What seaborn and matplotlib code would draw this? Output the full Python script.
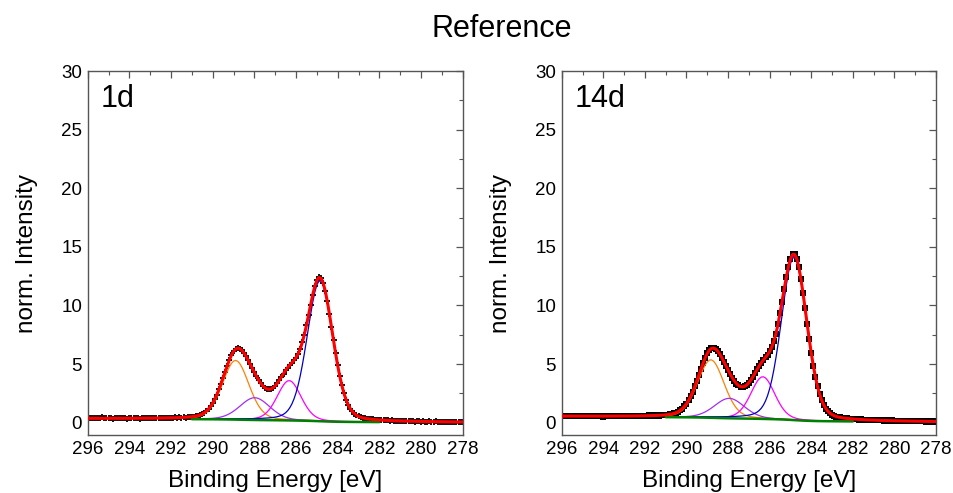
import numpy as np
import pandas as pd
import matplotlib
matplotlib.use("Agg")
import matplotlib.pyplot as plt
from matplotlib.ticker import MultipleLocator
import seaborn as sns

sns.set_theme(style="white")
plt.rcParams["font.family"] = ["Liberation Sans", "DejaVu Sans"]
plt.rcParams["text.color"] = "black"
plt.rcParams["axes.labelcolor"] = "black"

# C 1s fit parameters for each sample: peak centre [eV], height above background, FWHM [eV]
panel_names = ["1d", "14d"]
centers_1d = [288.90, 287.98, 286.33, 284.85]
heights_1d = [5.05, 1.90, 3.40, 12.00]
fwhm_1d = [1.50, 1.70, 1.35, 1.45]
centers_14d = [288.83, 287.94, 286.33, 284.83]
heights_14d = [4.95, 1.70, 3.60, 13.90]
fwhm_14d = [1.50, 1.70, 1.35, 1.45]
# background: level at 278 eV, linear slope per eV, Shirley step height
bg_1d = [0.02, 0.008, 0.18]
bg_14d = [0.06, 0.012, 0.26]
gl_mix = 0.2
fit_window = (282.0, 291.0)
component_colors = ["#ff8000", "#a030f0", "#ff00ff", "#0000c0"]

# binding-energy axis of the scans: 278.0 -> 296.0 eV in 0.1 eV steps
energy = np.round(np.arange(278.0, 296.0001, 0.1), 1)

# measured 1d spectrum
measured_1d = [
    0.06, 0.04, 0.08, 0.05, 0.09, 0.06, 0.05, 0.09, 0.07, 0.06,
    0.10, 0.07, 0.06, 0.11, 0.08, 0.10, 0.12, 0.08, 0.09, 0.13,
    0.10, 0.12, 0.14, 0.10, 0.11, 0.15, 0.12, 0.13, 0.16, 0.14,
    0.15, 0.18, 0.15, 0.17, 0.19, 0.18, 0.20, 0.19, 0.22, 0.22,
    0.24, 0.25, 0.26, 0.28, 0.30, 0.32, 0.34, 0.37, 0.41, 0.47,
    0.54, 0.64, 0.78, 0.96, 1.21, 1.54, 1.97, 2.51, 3.18, 3.97,
    4.89, 5.92, 7.03, 8.18, 9.31, 10.37, 11.27, 11.94, 12.33, 12.39,
    12.15, 11.63, 10.91, 10.06, 9.17, 8.31, 7.52, 6.85, 6.30, 5.87,
    5.56, 5.32, 5.12, 4.92, 4.71, 4.47, 4.19, 3.91, 3.62, 3.36,
    3.15, 2.98, 2.88, 2.85, 2.88, 2.99, 3.16, 3.38, 3.65, 3.96,
    4.29, 4.64, 4.99, 5.34, 5.67, 5.96, 6.18, 6.32, 6.36, 6.28,
    6.08, 5.76, 5.35, 4.87, 4.36, 3.83, 3.32, 2.84, 2.40, 2.01,
    1.68, 1.40, 1.18, 1.00, 0.86, 0.75, 0.67, 0.61, 0.57, 0.53,
    0.51, 0.47, 0.50, 0.44, 0.47, 0.43, 0.46, 0.41, 0.45, 0.40,
    0.44, 0.39, 0.43, 0.42, 0.38, 0.41, 0.43, 0.37, 0.40, 0.42,
    0.38, 0.41, 0.36, 0.40, 0.39, 0.35, 0.39, 0.41, 0.36, 0.38,
    0.40, 0.35, 0.39, 0.37, 0.41, 0.36, 0.38, 0.40, 0.35, 0.39,
    0.42, 0.37, 0.44, 0.46, 0.40, 0.38, 0.36, 0.41, 0.39, 0.43,
    0.42,
]

# measured 14d spectrum
measured_14d = [
    0.10, 0.13, 0.09, 0.12, 0.14, 0.10, 0.13, 0.11, 0.15, 0.12,
    0.14, 0.11, 0.16, 0.13, 0.12, 0.17, 0.14, 0.15, 0.18, 0.14,
    0.17, 0.19, 0.16, 0.18, 0.20, 0.17, 0.21, 0.19, 0.22, 0.20,
    0.23, 0.22, 0.25, 0.23, 0.26, 0.25, 0.28, 0.27, 0.30, 0.30,
    0.32, 0.33, 0.35, 0.37, 0.39, 0.41, 0.45, 0.48, 0.53, 0.60,
    0.69, 0.81, 0.98, 1.21, 1.52, 1.92, 2.44, 3.09, 3.89, 4.84,
    5.93, 7.15, 8.45, 9.78, 11.09, 12.28, 13.27, 13.99, 14.36, 14.35,
    13.98, 13.31, 12.42, 11.40, 10.34, 9.32, 8.39, 7.60, 6.95, 6.46,
    6.09, 5.81, 5.58, 5.36, 5.13, 4.86, 4.56, 4.25, 3.94, 3.65,
    3.41, 3.22, 3.10, 3.05, 3.08, 3.18, 3.34, 3.57, 3.84, 4.16,
    4.49, 4.85, 5.20, 5.54, 5.85, 6.11, 6.29, 6.37, 6.34, 6.18,
    5.91, 5.54, 5.09, 4.60, 4.09, 3.58, 3.10, 2.65, 2.26, 1.92,
    1.63, 1.39, 1.21, 1.06, 0.95, 0.86, 0.80, 0.75, 0.71, 0.69,
    0.67, 0.63, 0.66, 0.61, 0.64, 0.60, 0.63, 0.58, 0.62, 0.59,
    0.61, 0.57, 0.60, 0.56, 0.59, 0.61, 0.55, 0.58, 0.60, 0.56,
    0.59, 0.55, 0.58, 0.60, 0.54, 0.57, 0.59, 0.55, 0.58, 0.56,
    0.53, 0.57, 0.59, 0.54, 0.56, 0.58, 0.55, 0.60, 0.57, 0.54,
    0.58, 0.56, 0.60, 0.57, 0.55, 0.59, 0.56, 0.58, 0.60, 0.57,
    0.59,
]


def peak(e, c, h, w):
    """Gaussian-Lorentzian product-free sum line shape."""
    x = (e - c) / w
    return h * ((1 - gl_mix) * np.exp(-4 * np.log(2) * x ** 2) + gl_mix / (1 + 4 * x ** 2))


def model(centers, heights, widths, bg):
    comps = [peak(energy, c, h, w) for c, h, w in zip(centers, heights, widths)]
    total = np.sum(comps, axis=0)
    area = np.cumsum(total)
    shirley = bg[0] + bg[1] * (energy - 278.0) + bg[2] * area / area[-1]
    return comps, shirley, total + shirley


fig = plt.figure(figsize=(9.54, 4.93), dpi=100)
fig.patch.set_facecolor("white")
positions = [[0.0919, 0.1176, 0.3931, 0.7383], [0.5888, 0.1176, 0.3924, 0.7383]]
params = [(centers_1d, heights_1d, fwhm_1d, bg_1d, "+", measured_1d),
          (centers_14d, heights_14d, fwhm_14d, bg_14d, "s", measured_14d)]

for name, pos, (cs, hs, ws, bg, mk, measured) in zip(panel_names, positions, params):
    ax = fig.add_axes(pos)
    comps, back, fit = model(cs, hs, ws, bg)
    meas = pd.DataFrame({"energy": energy, "intensity": measured})
    if mk == "+":
        sns.scatterplot(data=meas, x="energy", y="intensity", marker="+", s=18,
                        color="black", linewidth=1.3, ax=ax, zorder=2)
    else:
        sns.scatterplot(data=meas, x="energy", y="intensity", marker="s", s=13,
                        color="black", linewidth=0, ax=ax, zorder=2)
    win = (energy >= fit_window[0]) & (energy <= fit_window[1])
    for comp, col in zip(comps, component_colors):
        d = pd.DataFrame({"energy": energy[win], "y": (comp + back)[win]})
        sns.lineplot(data=d, x="energy", y="y", color=col, linewidth=0.9, ax=ax, zorder=3)
    d = pd.DataFrame({"energy": energy[win], "y": back[win]})
    sns.lineplot(data=d, x="energy", y="y", color="#008000", linewidth=1.8, ax=ax, zorder=4)
    d = pd.DataFrame({"energy": energy, "y": fit})
    sns.lineplot(data=d, x="energy", y="y", color="#ff0000", linewidth=2.2, ax=ax, zorder=5)

    ax.set_xlim(296, 278)
    ax.set_ylim(-1.05, 30)
    ax.xaxis.set_major_locator(MultipleLocator(2))
    ax.xaxis.set_minor_locator(MultipleLocator(1))
    ax.yaxis.set_major_locator(MultipleLocator(5))
    ax.yaxis.set_minor_locator(MultipleLocator(2.5))
    ax.tick_params(which="both", direction="in", top=True, right=True, color="#555555",
                   labelsize=13.5, labelcolor="black", pad=4)
    ax.tick_params(which="major", length=5, width=0.9)
    ax.tick_params(which="minor", length=3, width=0.8)
    for sp in ax.spines.values():
        sp.set_color("#555555")
        sp.set_linewidth(1.0)
    ax.set_xlabel("Binding Energy [eV]", fontsize=17.5, labelpad=9)
    ax.set_ylabel("norm. Intensity", fontsize=17.5, labelpad=17)
    ax.text(0.035, 0.965, name, transform=ax.transAxes, fontsize=22, va="top", ha="left")

fig.text(502 / 954, 1 - 29 / 493, "Reference", fontsize=22, ha="center", va="center")
fig.savefig("out.png", dpi=100)
